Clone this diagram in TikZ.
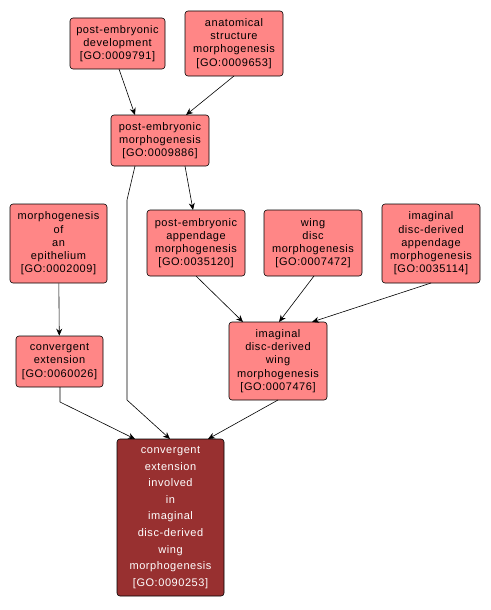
\documentclass[tikz,border=0pt]{standalone}
\usepackage{fontspec}
\setmainfont{Liberation Sans}[LetterSpace=5]
\usetikzlibrary{arrows.meta}
\definecolor{lightgo}{RGB}{255,134,134}
\definecolor{darkgo}{RGB}{152,48,48}
\begin{document}
\begin{tikzpicture}[x=1pt,y=-1pt,
  gobox/.style={draw=black, line width=0.6pt, rounded corners=3pt, fill=lightgo, align=center, inner sep=0pt,
    font=\fontsize{11}{13.2}\selectfont},
  godark/.style={gobox, fill=darkgo, text=white, font=\fontsize{11}{16.6}\selectfont},
  edge/.style={draw=black, line width=0.6pt, -{Stealth[length=7pt,width=6pt]}}]
\useasboundingbox (0,0) rectangle (490,610);
\node[gobox, minimum width=95, minimum height=51] (A) at (117.5,43.5) {post-embryonic\\development\\{[GO:0009791]}};
\node[gobox, minimum width=98, minimum height=65] (B) at (234,43.5) {anatomical\\structure\\morphogenesis\\{[GO:0009653]}};
\node[gobox, minimum width=98, minimum height=51] (C) at (160,140.5) {post-embryonic\\morphogenesis\\{[GO:0009886]}};
\node[gobox, minimum width=97, minimum height=79] (D) at (58.5,243.5) {morphogenesis\\of\\an\\epithelium\\{[GO:0002009]}};
\node[gobox, minimum width=98, minimum height=66] (E) at (196,243) {post-embryonic\\appendage\\morphogenesis\\{[GO:0035120]}};
\node[gobox, minimum width=98, minimum height=66] (F) at (313,243) {wing\\disc\\morphogenesis\\{[GO:0007472]}};
\node[gobox, minimum width=98, minimum height=79] (G) at (431,243.5) {imaginal\\disc-derived\\appendage\\morphogenesis\\{[GO:0035114]}};
\node[gobox, minimum width=87, minimum height=51] (H) at (59.5,361.5) {convergent\\extension\\{[GO:0060026]}};
\node[gobox, minimum width=98, minimum height=78] (I) at (278,361) {imaginal\\disc-derived\\wing\\morphogenesis\\{[GO:0007476]}};
\node[godark, minimum width=107, minimum height=157] (J) at (170.5,517.5) {convergent\\extension\\involved\\in\\imaginal\\disc-derived\\wing\\morphogenesis\\{[GO:0090253]}};
\coordinate (c1) at (127,200);
\coordinate (c2) at (127,400);
\coordinate (h1) at (60,402);
\draw[edge] (119,69) -- (135,115);
\draw[edge] (234,76) -- (186,115);
\draw[edge] (135,166) -- (c1) -- (c2) -- (170,439);
\draw[edge] (185,166) -- (193,210);
\draw[edge] (D) -- (H);
\draw[edge] (60,387) -- (h1) -- (135,439);
\draw[edge] (278,400) -- (208,439);
\draw[edge] (196,276) -- (243,322);
\draw[edge] (314,276) -- (279,322);
\draw[edge] (431,283) -- (312,322);
\end{tikzpicture}
\end{document}
